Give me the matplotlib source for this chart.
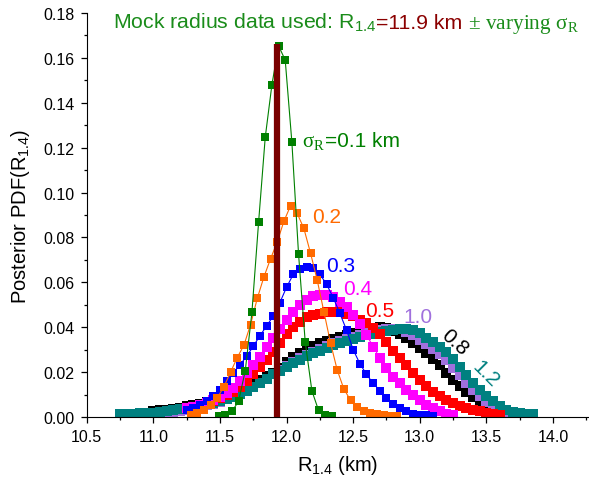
import numpy as np
import matplotlib
matplotlib.use("Agg")
import matplotlib.pyplot as plt
from matplotlib.ticker import MultipleLocator, FormatStrFormatter

plt.rcParams['font.family'] = ['Liberation Sans', 'DejaVu Sans']
plt.rcParams['mathtext.default'] = 'regular'

# ---- data, x grid step 0.05 km per curve ----
step = 0.05

x0_s01 = 11.49
pdf_s01 = [0.0003, 0.0008, 0.0025, 0.0070, 0.0206, 0.0466, 0.0867, 0.1246, 0.1480,
           0.1654, 0.1590, 0.1224, 0.0726, 0.0335, 0.0117, 0.0030, 0.0010, 0.0003]

x0_s02 = 11.28
pdf_s02 = [0.0010, 0.0018, 0.0030, 0.0052, 0.0085, 0.0135, 0.0200, 0.0265, 0.0320,
           0.0412, 0.0528, 0.0624, 0.0705, 0.0780, 0.0872, 0.0941, 0.0907, 0.0840,
           0.0730, 0.0610, 0.0470, 0.0330, 0.0210, 0.0125, 0.0075, 0.0045, 0.0028,
           0.0018, 0.0012, 0.0008, 0.0005, 0.0003]

x0_s03 = 11.25
pdf_s03 = [0.0030, 0.0040, 0.0054, 0.0072, 0.0094, 0.0120, 0.0160, 0.0198, 0.0232,
           0.0270, 0.0315, 0.0362, 0.0405, 0.0450, 0.0510, 0.0578, 0.0635, 0.0658,
           0.0670, 0.0666, 0.0636, 0.0592, 0.0532, 0.0462, 0.0388, 0.0300, 0.0238,
           0.0190, 0.0150, 0.0118, 0.0085, 0.0060, 0.0040, 0.0025, 0.0015, 0.0010,
           0.0007, 0.0005]

x0_s04 = 11.25
pdf_s04 = [0.0040, 0.0046, 0.0054, 0.0064, 0.0075, 0.0088, 0.0105, 0.0130, 0.0160,
           0.0195, 0.0230, 0.0266, 0.0310, 0.0352, 0.0393, 0.0432, 0.0468, 0.0500,
           0.0523, 0.0537, 0.0544, 0.0542, 0.0533, 0.0514, 0.0488, 0.0455, 0.0414,
           0.0365, 0.0314, 0.0262, 0.0218, 0.0180, 0.0150, 0.0122, 0.0096, 0.0074,
           0.0055, 0.0038, 0.0025, 0.0014, 0.0008]

x0_s05 = 11.30
pdf_s05 = [0.0045, 0.0053, 0.0062, 0.0073, 0.0085, 0.0096, 0.0110, 0.0132, 0.0162,
           0.0192, 0.0224, 0.0253, 0.0288, 0.0328, 0.0372, 0.0402, 0.0425, 0.0444,
           0.0455, 0.0461, 0.0468, 0.0470, 0.0468, 0.0460, 0.0448, 0.0434, 0.0418,
           0.0398, 0.0368, 0.0332, 0.0296, 0.0264, 0.0232, 0.0198, 0.0166, 0.0138,
           0.0113, 0.0093, 0.0077, 0.0062, 0.0050, 0.0040, 0.0032, 0.0025, 0.0019,
           0.0014, 0.0009]

x0_s08 = 11.00
pdf_s08 = [0.0025, 0.0029, 0.0033, 0.0037, 0.0042, 0.0047, 0.0053, 0.0059, 0.0065,
           0.0072, 0.0080, 0.0089, 0.0100, 0.0115, 0.0132, 0.0150, 0.0166, 0.0182,
           0.0198, 0.0220, 0.0244, 0.0267, 0.0286, 0.0302, 0.0316, 0.0328, 0.0339,
           0.0348, 0.0357, 0.0365, 0.0373, 0.0381, 0.0389, 0.0396, 0.0400, 0.0396,
           0.0385, 0.0370, 0.0352, 0.0330, 0.0308, 0.0285, 0.0258, 0.0230, 0.0198,
           0.0167, 0.0137, 0.0112, 0.0087, 0.0062, 0.0040, 0.0023, 0.0010]

x0_s10 = 10.90
pdf_s10 = [0.0010, 0.0012, 0.0014, 0.0017, 0.0020, 0.0024, 0.0028, 0.0033, 0.0039,
           0.0045, 0.0052, 0.0060, 0.0069, 0.0079, 0.0090, 0.0103, 0.0117, 0.0133,
           0.0151, 0.0171, 0.0192, 0.0211, 0.0229, 0.0246, 0.0262, 0.0277, 0.0291,
           0.0304, 0.0316, 0.0328, 0.0339, 0.0349, 0.0358, 0.0366, 0.0373, 0.0380,
           0.0386, 0.0390, 0.0392, 0.0390, 0.0380, 0.0364, 0.0345, 0.0324, 0.0302,
           0.0279, 0.0252, 0.0220, 0.0185, 0.0152, 0.0121, 0.0092, 0.0066, 0.0043,
           0.0025, 0.0012]

x0_s12 = 10.75
pdf_s12 = [0.0012, 0.0013, 0.0014, 0.0016, 0.0018, 0.0020, 0.0023, 0.0026, 0.0030,
           0.0034, 0.0038, 0.0044, 0.0050, 0.0056, 0.0063, 0.0071, 0.0080, 0.0091,
           0.0103, 0.0117, 0.0132, 0.0150, 0.0170, 0.0190, 0.0207, 0.0224, 0.0240,
           0.0256, 0.0270, 0.0283, 0.0296, 0.0308, 0.0319, 0.0330, 0.0340, 0.0349,
           0.0357, 0.0364, 0.0371, 0.0378, 0.0384, 0.0389, 0.0393, 0.0394, 0.0388,
           0.0373, 0.0354, 0.0333, 0.0311, 0.0288, 0.0258, 0.0222, 0.0185, 0.0152,
           0.0122, 0.0095, 0.0070, 0.0048, 0.0031, 0.0022, 0.0018, 0.0015, 0.0013]

mock_R = 11.93
mock_top = 0.166

# (start, values, colour, marker size, label, label x, label y, rotation)
curves = [
    (x0_s08, pdf_s08, 'black', 6.5, '0.8', 13.26, 0.0336, -42),
    (x0_s10, pdf_s10, '#a070dd', 6.5, '1.0', 12.875, 0.0424, 0),
    (x0_s12, pdf_s12, '#008080', 6.5, '1.2', 13.49, 0.0195, -45),
    (x0_s05, pdf_s05, '#ff0000', 6.5, '0.5', 12.593, 0.0449, 0),
    (x0_s04, pdf_s04, '#ff00ff', 6.5, '0.4', 12.425, 0.0548, 0),
    (x0_s03, pdf_s03, '#0000ff', 6.2, '0.3', 12.30, 0.0652, 0),
    (x0_s02, pdf_s02, '#ff6a00', 5.8, '0.2', 12.19, 0.0867, 0),
    (x0_s01, pdf_s01, '#008000', 5.8, None, 0, 0, 0),
]

W, H = 589, 481
fig = plt.figure(figsize=(W / 100, H / 100), dpi=100)
ax = fig.add_axes([86.7 / W, 63 / H, 1 - 86.7 / W, 404 / H])

for x0, vals, col, ms, lab, lx, ly, rot in curves:
    xs = x0 + step * np.arange(len(vals))
    ax.plot(xs, vals, '-', color=col, lw=0.8, marker='s', ms=ms, mew=0)
    if lab is not None:
        if rot == 0:
            ax.text(lx, ly, lab, color=col, fontsize=15, ha='left', va='baseline')
        else:
            ax.text(lx, ly, lab, color=col, fontsize=15, ha='center', va='center',
                    rotation=rot, rotation_mode='anchor')

ax.vlines(mock_R, 0, mock_top, color='#7a0000', lw=4.5, zorder=5)

ax.set_xlim(10.5, 14.27)
ax.set_ylim(0, 0.18)
ax.xaxis.set_major_locator(MultipleLocator(0.5))
ax.xaxis.set_minor_locator(MultipleLocator(0.25))
ax.yaxis.set_major_locator(MultipleLocator(0.02))
ax.yaxis.set_minor_locator(MultipleLocator(0.01))
ax.xaxis.set_major_formatter(FormatStrFormatter('%.1f'))
ax.yaxis.set_major_formatter(FormatStrFormatter('%.2f'))
ax.spines['top'].set_visible(False)
ax.spines['right'].set_visible(False)
ax.tick_params(which='major', direction='out', length=4, width=0.9, labelsize=11.5, pad=5)
ax.tick_params(which='minor', direction='out', length=2.5, width=0.9)
ax.set_xlabel('R$_{1.4}$ (km)', fontsize=14.5, labelpad=6)
ax.set_ylabel('Posterior PDF(R$_{1.4}$)', fontsize=14.5, labelpad=8)

# multi-font text pieces, laid out left to right on one baseline
fig.canvas.draw()
rend = fig.canvas.get_renderer()


def chain(x, y, pieces, size):
    for s, col, fam in pieces:
        t = fig.text(x / W, y / H, s, color=col, family=fam, fontsize=size,
                     ha='left', va='baseline')
        x = t.get_window_extent(rend).x1
    return x


green = '#1a8c1a'
chain(113, H - 29, [('Mock radius data used: R$_{1.4}$', green, 'Liberation Sans'),
                    ('=11.9 km', '#8b0000', 'Liberation Sans'),
                    (' \u00b1 varying \u03c3$_{R}$', green, 'Liberation Serif')], 15.3)
chain(301.7, H - 146.7, [('\u03c3$_{R}$', '#008000', 'Liberation Serif'),
                        ('=0.1 km', '#008000', 'Liberation Sans')], 15)

fig.savefig('out.png', dpi=100)
